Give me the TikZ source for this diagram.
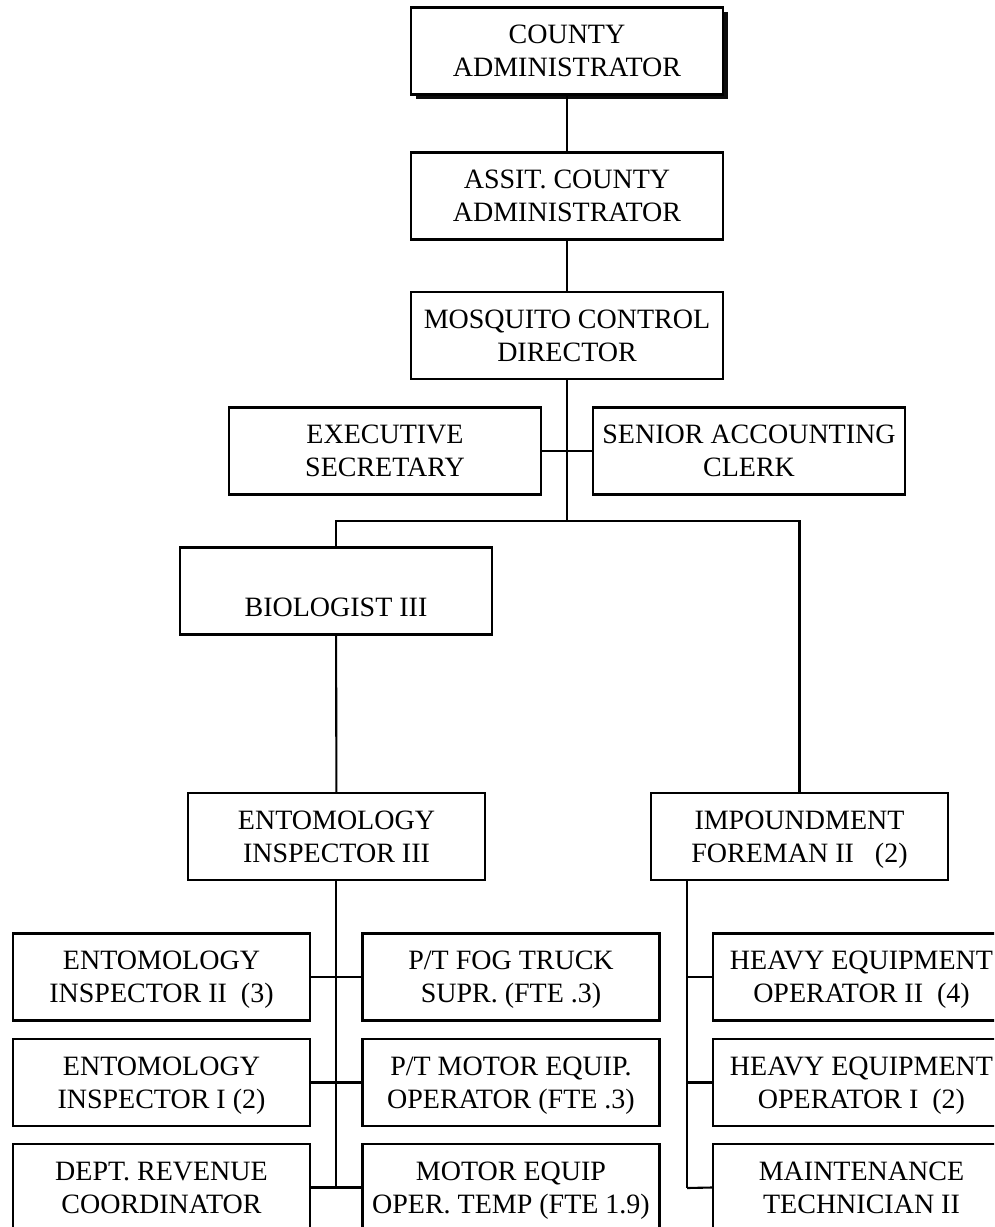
\documentclass[tikz,border=0pt]{standalone}
\usepackage{fontspec}
\setmainfont{Liberation Serif}
\usetikzlibrary{shadows}
% strut that keeps both text lines balanced about the box centre
\newcommand\lnstrut{\rule[-6.5pt]{0pt}{31.5pt}}
\newcommand\twoline[2]{\lnstrut #1\\\lnstrut #2}
\begin{document}
\begin{tikzpicture}[x=1pt,y=-1pt,
  post/.style={draw, line width=2.1pt, fill=white, align=center, inner sep=0pt,
    minimum height=87pt, font=\fontsize{28}{33}\selectfont},
  wide/.style={post, minimum width=312pt},
  narrow/.style={post, minimum width=297pt},
  headpost/.style={wide, drop shadow={shadow xshift=4.5pt, shadow yshift=-4.5pt,
    fill=black, opacity=0.95}},
  link/.style={line width=2.1pt}]
\useasboundingbox (0,0) rectangle (994,1227);
\clip (0,0) rectangle (994,1227);

% upper chain of command
\node[headpost] (ca)  at (567,51)    {\twoline{COUNTY}{ADMINISTRATOR}};
\node[wide]     (ac)  at (567,196)   {\twoline{ASSIT. COUNTY}{ADMINISTRATOR}};
\node[wide]     (mcd) at (567,335.5) {\twoline{MOSQUITO CONTROL}{DIRECTOR}};
\node[wide]     (es)  at (385,451)   {\twoline{EXECUTIVE}{SECRETARY}};
\node[wide]     (sac) at (749,451)   {\twoline{SENIOR ACCOUNTING}{CLERK}};
\node[wide]     (bio) at (336,591)   {\twoline{}{BIOLOGIST III}};

% section heads
\node[narrow] (ei3) at (336.5,836.5) {\twoline{ENTOMOLOGY}{INSPECTOR III}};
\node[narrow] (imp) at (799.5,836.5) {\twoline{IMPOUNDMENT}{FOREMAN II\ \ \ (2)}};

% entomology staff
\node[narrow] (ei2) at (161.5,977)    {\twoline{ENTOMOLOGY}{INSPECTOR II\ \ (3)}};
\node[narrow] (ei1) at (161.5,1082.5) {\twoline{ENTOMOLOGY}{INSPECTOR I (2)}};
\node[narrow] (drc) at (161.5,1187.5) {\twoline{DEPT. REVENUE}{COORDINATOR}};
\node[narrow] (fog) at (511,977)      {\twoline{P/T FOG TRUCK}{SUPR. (FTE .3)}};
\node[narrow] (meo) at (511,1082.5)   {\twoline{P/T MOTOR EQUIP.}{OPERATOR (FTE .3)}};
\node[narrow] (met) at (511,1187.5)   {\twoline{MOTOR EQUIP}{OPER. TEMP (FTE 1.9)}};

% impoundment staff
\node[narrow] (he2) at (861.5,977)    {\twoline{HEAVY EQUIPMENT}{OPERATOR II\ \ (4)}};
\node[narrow] (he1) at (861.5,1082.5) {\twoline{HEAVY EQUIPMENT}{OPERATOR I\ \ (2)}};
\node[narrow] (mt2) at (861.5,1187.5) {\twoline{MAINTENANCE}{TECHNICIAN II}};

% connectors
\coordinate (br) at (567,521);
\coordinate (ltrunk) at (336,1188);
\coordinate (rtrunk) at (687,1188);
\draw[link] (ca) -- (ac);
\draw[link] (ac) -- (mcd);
\draw[link] (mcd.south) -- (br);
\draw[link] (es) -- (sac);
\draw[link] (bio.north) |- (br) -| (imp.north);
\draw[link] (bio) -- (ei3);
\draw[link] (ei3.south -| ltrunk) -- (ltrunk);
\draw[link] (ei2) -- (fog);
\draw[link] (ei1) -- (meo);
\draw[link] (drc) -- (met);
\draw[link] (imp.south -| rtrunk) -- (rtrunk);
\draw[link] (he2.west -| rtrunk) -- (he2.west);
\draw[link] (he1.west -| rtrunk) -- (he1.west);
\draw[link] (rtrunk) -- (mt2.west);
\end{tikzpicture}
\end{document}
